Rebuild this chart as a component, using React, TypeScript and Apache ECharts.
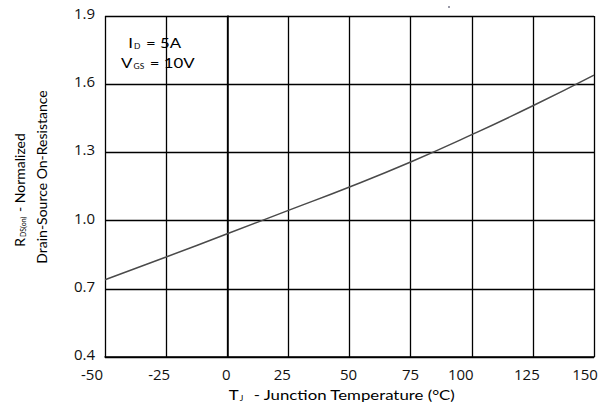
import React, { useEffect, useRef } from "react";
import * as echarts from "echarts";

const temperatures = [-50, -25, 0, 25, 50, 75, 100, 125, 150];
const rdsNormalized = [0.74, 0.84, 0.942, 1.045, 1.148, 1.258, 1.378, 1.505, 1.64];
const xTicks = { min: -50, max: 150, interval: 25 };
const yTicks = { min: 0.4, max: 1.9, interval: 0.3 };
const annotationLines = ["I|D| = 5A", "V|GS| = 10V"];

const FONT = "Lato, 'Liberation Sans', sans-serif";
const TICK_FONT = "'Open Sans', 'Noto Sans', sans-serif";
const TEXT = "#111111";
const STRETCH = 1.2;

// label nudges (px to the left) to match the reference layout
const xLabelShift: Record<string, number> = {
  "-50": 13, "-25": 7, "0": 1, "25": 6, "50": 1, "75": 0, "100": 11, "125": 6, "150": 9,
};

export default function App() {
  const ref = useRef<HTMLDivElement>(null);
  useEffect(() => {
    if (!ref.current) return;
    const chart = echarts.init(ref.current, undefined, { renderer: "svg" });
    const keys = Object.keys(xLabelShift);
    const richX: Record<string, any> = {};
    keys.forEach((k, i) => {
      richX["k" + i] = {
        fontSize: 15, fontFamily: TICK_FONT, color: TEXT, lineHeight: 13,
        padding: [0, xLabelShift[k] * 2, 0, 0],
      };
    });
    const sub = (t: string) => {
      const [a, b, c] = t.split("|");
      return `{n|${a}}{s|${b}}{n|${c}}`;
    };
    const richSub = {
      n: { fontSize: 14, fontFamily: FONT, color: TEXT },
      s: { fontSize: 7, fontFamily: FONT, color: TEXT, verticalAlign: "bottom", padding: [4, 1, 0, 1] },
    };
    chart.setOption({
      animation: false,
      backgroundColor: "#ffffff",
      grid: { left: 105, right: 17, top: 16, bottom: 48, containLabel: false, outerBoundsMode: "none" },
      xAxis: {
        type: "value",
        min: xTicks.min, max: xTicks.max, interval: xTicks.interval,
        axisLine: { show: true, lineStyle: { color: "#000", width: 1.5 } },
        axisTick: { show: false },
        splitLine: { show: true, lineStyle: { color: "#000", width: 1.3 } },
        axisLabel: {
          margin: 10,
          formatter: (v: number) => {
            const i = keys.indexOf(String(v));
            return `{k${i < 0 ? 0 : i}|${v}}`;
          },
          rich: richX,
        },
      },
      yAxis: {
        type: "value",
        min: yTicks.min, max: yTicks.max, interval: yTicks.interval,
        axisLine: { show: true, lineStyle: { color: "#000", width: 1.5 } },
        axisTick: { show: false },
        splitLine: { show: true, lineStyle: { color: "#000", width: 1.3 } },
        axisLabel: {
          margin: 10, fontSize: 15, fontFamily: TICK_FONT, color: TEXT,
          lineHeight: 6, verticalAlign: "bottom",
          formatter: (v: number) => v.toFixed(1),
        },
      },
      series: [
        {
          type: "line",
          data: temperatures.map((t, i) => [t, rdsNormalized[i]]),
          smooth: true,
          showSymbol: false,
          lineStyle: { color: "#4a4a4a", width: 1.5 },
        },
      ],
      graphic: [
        {
          type: "text", x: 121, y: 43, scaleX: STRETCH,
          style: { text: sub(annotationLines[0]), rich: richSub, x: 6, align: "left", verticalAlign: "middle" },
        },
        {
          type: "text", x: 121, y: 63, scaleX: STRETCH,
          style: { text: sub(annotationLines[1]), rich: richSub, align: "left", verticalAlign: "middle" },
        },
        {
          type: "text", x: 19, y: 190, rotation: Math.PI / 2,
          style: {
            text: "{n|R}{s|DS(on)}{n| - Normalized}", rich: richSub,
            align: "center", verticalAlign: "middle",
          },
        },
        {
          type: "text", x: 41, y: 177, rotation: Math.PI / 2,
          style: {
            text: "{n|Drain-Source On-Resistance}", rich: richSub,
            align: "center", verticalAlign: "middle",
          },
        },
        {
          type: "text", x: 342, y: 395, scaleX: STRETCH,
          style: {
            text: "{n|T}{s|J}{n|  - Junction Temperature (°C)}", rich: richSub,
            align: "center", verticalAlign: "middle",
          },
        },
        { type: "rect", shape: { x: 448, y: 6, width: 2, height: 2 }, style: { fill: "#9a9aa8" } },
      ],
    });
    return () => chart.dispose();
  }, []);
  return (
    <div
      ref={ref}
      style={{ position: "fixed", left: 0, top: 0, width: 611, height: 405, background: "#fff" }}
    />
  );
}
